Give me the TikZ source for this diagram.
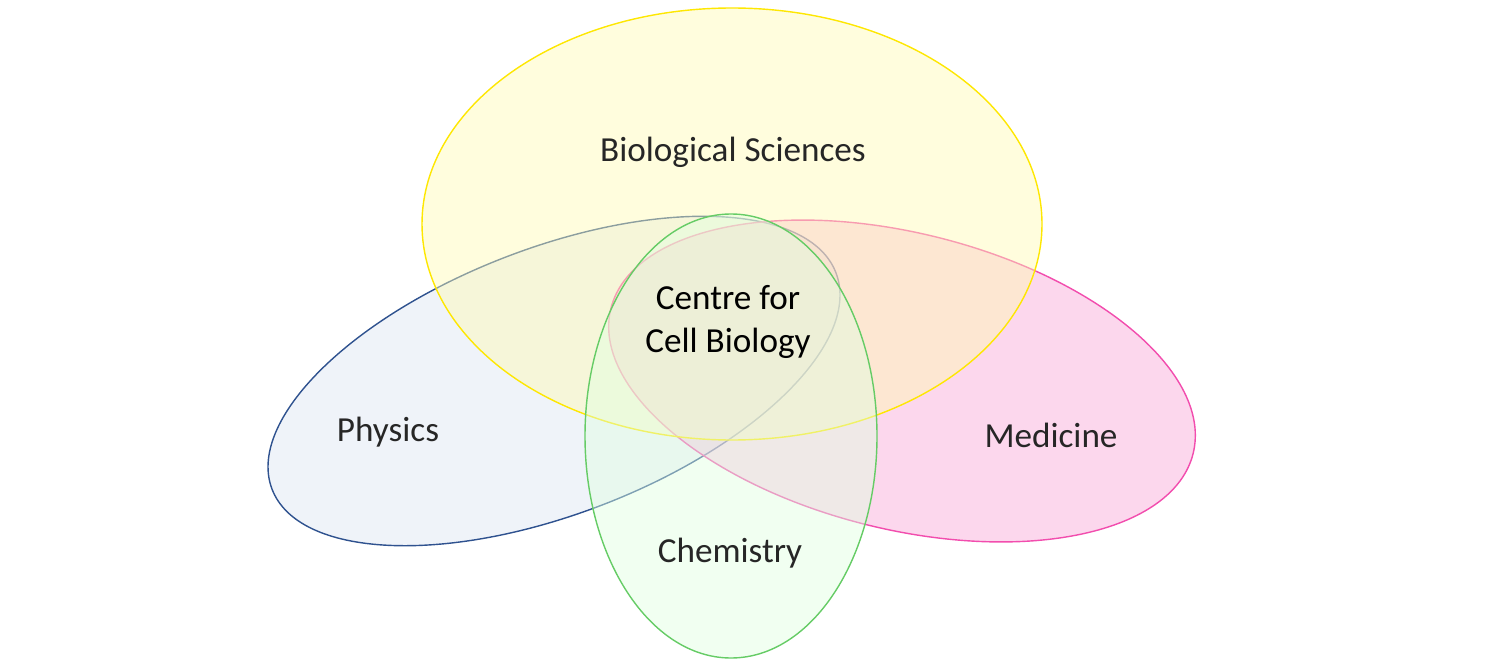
\documentclass[tikz,border=0pt]{standalone}
\usepackage{fontspec}
\setmainfont{Carlito}
\definecolor{physline}{RGB}{47,82,143}
\definecolor{physfill}{RGB}{220,228,242}
\begin{document}
\begin{tikzpicture}[x=0.01cm,y=-0.01cm,
  setshape/.style={fill opacity=0.45,draw opacity=1,thin},
  setlabel/.style={font=\fontsize{10}{12}\selectfont,text=black!85,align=center}]
\useasboundingbox (0,0) rectangle (1500,667);
%\draw[step=100,gray,very thin] (0,0) grid (1500,667); %background grid
\filldraw[setshape, fill=physfill, draw=physline, shift={(554,381)}, rotate=21] (0,0) ellipse (302 and 133);
\filldraw[setshape, fill=magenta!35, draw=magenta!70, shift={(902,381)}, rotate=-14] (0,0) ellipse (300 and 148);
\filldraw[setshape, fill=yellow!30, draw=yellow!90!orange] (732,224) ellipse (310 and 216);
\filldraw[setshape, fill=green!12, draw=green!50!gray!80] (731,436) ellipse (146 and 222);
\node[setlabel] (bio) at (733,152) {Biological Sciences};
\node[setlabel] (phys) at (388,432) {Physics};
\node[setlabel] (med) at (1051,435) {Medicine};
\node[setlabel] (chem) at (730,553) {Chemistry};
\node[setlabel,text=black] (ccb) at (728,322) {Centre for\\Cell Biology};
\end{tikzpicture}
\end{document}
